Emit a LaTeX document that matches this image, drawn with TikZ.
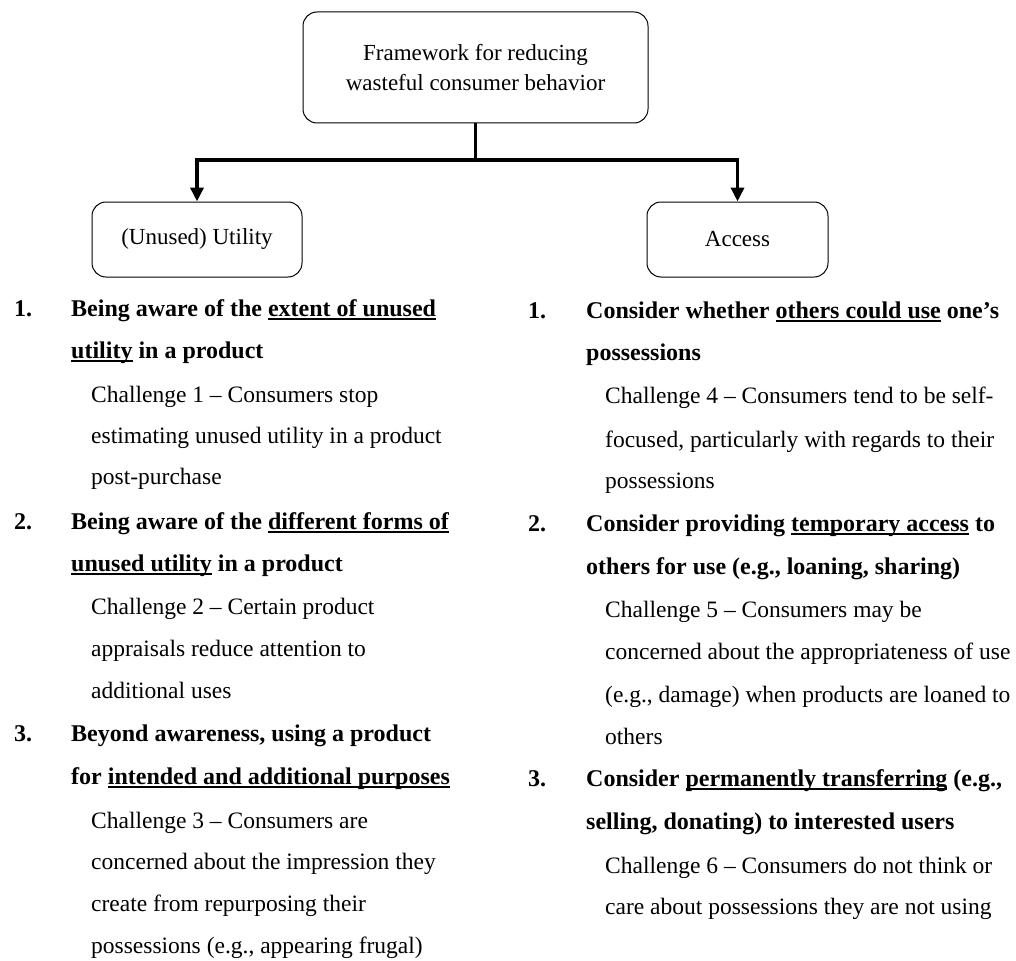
\documentclass[tikz,border=0pt]{standalone}
\usepackage{fontspec}
\setmainfont{Liberation Serif}
\usetikzlibrary{arrows.meta}
\newcommand\myul[1]{\setbox0=\hbox{#1}\rlap{\rule[-3.5pt]{\wd0}{1.3pt}}\box0\relax}
\begin{document}
\begin{tikzpicture}[x=1pt,y=-1pt,
  box/.style={draw, rounded corners=14pt, line width=1pt, align=center, inner sep=0pt,
    font=\fontsize{23}{30}\selectfont},
  txt/.style={anchor=base west, inner sep=0pt, font=\fontsize{23.5}{25}\selectfont},
  txtb/.style={anchor=base west, inner sep=0pt, font=\fontsize{24}{25}\selectfont\bfseries},
  stem/.style={line width=3.8pt},
  conn/.style={line width=3.8pt, -{Triangle[length=14pt,width=13pt]}}]
\useasboundingbox (0,0) rectangle (1016,960);

\node[box, minimum width=345pt, minimum height=111pt] (top) at (475.5,67.5)
  {Framework for reducing\\wasteful consumer behavior};
\node[box, minimum width=210pt, minimum height=75pt] (left) at (197,239.5) {(Unused) Utility};
\node[box, minimum width=181pt, minimum height=75pt] (right) at (737.5,239.5) {Access};

\coordinate (j) at (475.5,160);
\coordinate (jb) at (475.5,161.9);
\draw[stem] (top.south) -- (jb);
\draw[conn] (j) -| (left.north);
\draw[conn] (j) -| (right.north);

% left column
\node[txtb] (ln1) at (14,316) {1.};
\node[txtb] (la1) at (71,316) {Being aware of the \myul{extent of unused}};
\node[txtb] (la2) at (71,358) {\myul{utility} in a product};
\node[txt] (lc1a) at (91,402) {Challenge 1 – Consumers stop};
\node[txt] (lc1b) at (91,443) {estimating unused utility  in a product};
\node[txt] (lc1c) at (91,484) {post-purchase};
\node[txtb] (ln2) at (14,529) {2.};
\node[txtb] (lb1) at (71,529) {Being aware of the \myul{different forms of}};
\node[txtb] (lb2) at (71,571) {\myul{unused utility} in a product};
\node[txt] (lc2a) at (91,614) {Challenge 2 – Certain product};
\node[txt] (lc2b) at (91,656) {appraisals reduce attention to};
\node[txt] (lc2c) at (91,698) {additional  uses};
\node[txtb] (ln3) at (14,741) {3.};
\node[txtb] (ld1) at (71,741) {Beyond awareness, using a product};
\node[txtb] (ld2) at (71,784) {for \myul{intended and additional purposes}};
\node[txt] (lc3a) at (91,828) {Challenge 3 – Consumers are};
\node[txt] (lc3b) at (91,869) {concerned about the impression they};
\node[txt] (lc3c) at (91,911) {create from repurposing their};
\node[txt] (lc3d) at (91,953) {possessions (e.g., appearing frugal)};

% right column
\node[txtb] (rn1) at (528,318) {1.};
\node[txtb] (ra1) at (586,318) {Consider whether \myul{others could use} one’s};
\node[txtb] (ra2) at (586,360) {possessions};
\node[txt] (rc4a) at (605,403) {Challenge 4 – Consumers tend to be self-};
\node[txt] (rc4b) at (605,447) {focused, particularly  with regards to their};
\node[txt] (rc4c) at (605,488) {possessions};
\node[txtb] (rn2) at (528,531) {2.};
\node[txtb] (rb1) at (586,531) {Consider providing \myul{temporary access} to};
\node[txtb] (rb2) at (586,574) {others for use (e.g., loaning, sharing)};
\node[txt] (rc5a) at (605,617) {Challenge 5 – Consumers may be};
\node[txt] (rc5b) at (605,659) {concerned about the appropriateness of use};
\node[txt] (rc5c) at (605,702) {(e.g., damage) when products are loaned to};
\node[txt] (rc5d) at (605,744) {others};
\node[txtb] (rn3) at (528,786) {3.};
\node[txtb] (rd1) at (586,786) {Consider \myul{permanently transferring} (e.g.,};
\node[txtb] (rd2) at (586,829) {selling, donating) to interested users};
\node[txt] (rc6a) at (605,873) {Challenge 6 – Consumers do not think  or};
\node[txt] (rc6b) at (605,914) {care about possessions they are not using};
\end{tikzpicture}
\end{document}
